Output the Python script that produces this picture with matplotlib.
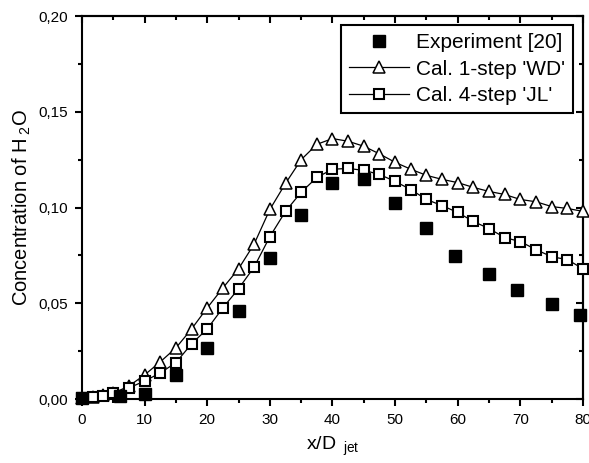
import matplotlib.pyplot as plt
from matplotlib.ticker import MultipleLocator, FuncFormatter

plt.rcParams['font.family'] = ['Liberation Sans', 'DejaVu Sans']
plt.rcParams['mathtext.fontset'] = 'custom'
plt.rcParams['mathtext.rm'] = 'Liberation Sans'
plt.rcParams['mathtext.it'] = 'Liberation Sans'

## Donnees

x_exp = [0, 6, 10, 15, 20, 25, 30, 35, 40, 45, 50, 55, 59.5, 65, 69.5, 75, 79.5]
c_exp = [0.0005, 0.0016, 0.0026, 0.0126, 0.0267, 0.046, 0.0738, 0.0963, 0.113,
         0.115, 0.1026, 0.0895, 0.0749, 0.0654, 0.0571, 0.0497, 0.044]

x_cal = [0, 1.7, 3.3, 5, 7.5, 10, 12.5, 15, 17.5, 20, 22.5, 25, 27.5, 30, 32.5,
         35, 37.5, 40, 42.5, 45, 47.5, 50, 52.5, 55, 57.5, 60, 62.5, 65, 67.5,
         70, 72.5, 75, 77.5, 80]
c_wd = [0.0005, 0.001, 0.002, 0.003, 0.0068, 0.0126, 0.0194, 0.0267, 0.0366,
        0.0476, 0.058, 0.068, 0.081, 0.099, 0.1126, 0.125, 0.133, 0.136, 0.1346,
        0.132, 0.128, 0.1236, 0.120, 0.1168, 0.1147, 0.113, 0.1105, 0.1084,
        0.1068, 0.1042, 0.103, 0.1005, 0.0995, 0.098]
c_jl = [0.0003, 0.0008, 0.0015, 0.003, 0.0058, 0.0094, 0.0136, 0.019, 0.0288,
        0.0366, 0.0476, 0.0576, 0.069, 0.0848, 0.098, 0.108, 0.1157, 0.120,
        0.1204, 0.1194, 0.1173, 0.1136, 0.1094, 0.1042, 0.101, 0.0974, 0.0927,
        0.089, 0.0843, 0.0822, 0.078, 0.0743, 0.0728, 0.068]

labels = ["Experiment [20]", "Cal. 1-step 'WD'", "Cal. 4-step 'JL'"]

## Figure

fig = plt.figure(figsize=(5.89, 4.63), dpi=100)
ax = fig.add_axes([0.1392, 0.1382, 0.8506, 0.8272])

ax.plot(x_exp, c_exp, 's', color='black', ms=9, clip_on=False, zorder=4,
        label=labels[0])
ax.plot(x_cal, c_wd, '-^', color='black', lw=0.9, ms=8, mfc='white',
        mew=1.1, clip_on=False, zorder=3, label=labels[1])
ax.plot(x_cal, c_jl, '-s', color='black', lw=0.9, ms=6.5, mfc='white',
        mew=1.5, clip_on=False, zorder=3, label=labels[2])

ax.set_xlim(0, 80)
ax.set_ylim(0, 0.20)

comma = FuncFormatter(lambda v, p: ('%.2f' % v).replace('.', ','))
ax.xaxis.set_major_locator(MultipleLocator(10))
ax.xaxis.set_minor_locator(MultipleLocator(5))
ax.yaxis.set_major_locator(MultipleLocator(0.05))
ax.yaxis.set_minor_locator(MultipleLocator(0.025))
ax.yaxis.set_major_formatter(comma)
ax.tick_params(which='major', direction='out', length=5, width=1.5,
               labelsize=11, pad=5)
ax.tick_params(which='minor', direction='out', length=3, width=1.5)

for s in ax.spines.values():
    s.set_linewidth(1.5)

# ticks vers l'interieur en haut et a droite
top = ax.secondary_xaxis('top')
top.xaxis.set_major_locator(MultipleLocator(10))
top.xaxis.set_minor_locator(MultipleLocator(5))
top.tick_params(which='major', direction='in', length=5, width=1.5, labeltop=False)
top.tick_params(which='minor', direction='in', length=3, width=1.5)
top.spines['top'].set_linewidth(1.5)
right = ax.secondary_yaxis('right')
right.yaxis.set_major_locator(MultipleLocator(0.05))
right.yaxis.set_minor_locator(MultipleLocator(0.025))
right.tick_params(which='major', direction='in', length=5, width=1.5, labelright=False)
right.tick_params(which='minor', direction='in', length=3, width=1.5)
right.spines['right'].set_linewidth(1.5)

ax.set_ylabel('Concentration of H$_{\\ 2}$O', fontsize=14.5, labelpad=4)
ax.set_xlabel('x/D$_{\\ \\ \\mathrm{jet}}$', fontsize=14, labelpad=6)

leg = ax.legend(loc='upper right', bbox_to_anchor=(0.980, 0.9765),
                borderaxespad=0, fontsize=15, numpoints=1, handlelength=2.9,
                handletextpad=0.3, labelspacing=0.35, borderpad=0.4,
                fancybox=False, framealpha=1, edgecolor='black')
leg.get_frame().set_linewidth(1.5)

fig.savefig('out.png', dpi=100)
